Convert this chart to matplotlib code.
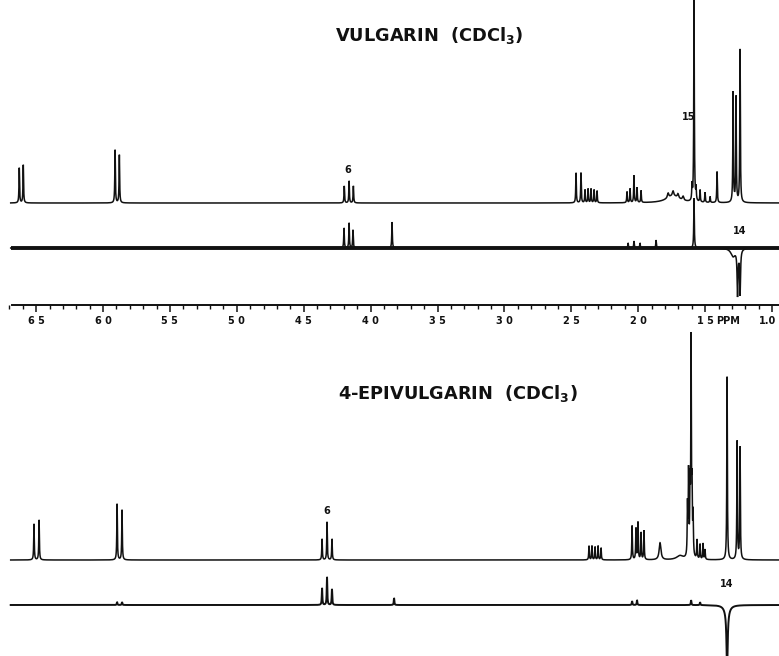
import matplotlib
matplotlib.use("Agg")
import matplotlib.pyplot as plt
import matplotlib.ticker as ticker
import matplotlib.transforms as mtransforms
import numpy as np

# peak lists: shift (ppm), height (px), half width (ppm)
vul_ppm = [6.626, 6.596, 5.910, 5.878, 4.197, 4.161, 4.129,
           2.465, 2.428, 2.398, 2.375, 2.353, 2.330, 2.308,
           2.084, 2.061, 2.032, 2.009, 1.979,
           1.740, 1.777, 1.740, 1.703, 1.665,
           1.583, 1.598, 1.568, 1.538, 1.501, 1.463, 1.411,
           1.291, 1.269, 1.239]
vul_h = [35, 38, 53, 48, 17, 22, 17,
         30, 30, 13, 14, 14, 13, 12,
         11, 14, 27, 15, 12,
         7, 5, 5, 4, 4,
         203, 15, 12, 12, 10, 6, 31,
         110, 105, 153]
vul_w = [0.0025] * 19 + [0.06, 0.006, 0.006, 0.006, 0.006] + [0.0025] * 10

vul_dept_ppm = [4.199, 4.161, 4.132, 3.840, 2.076, 2.032, 1.987, 1.867,
                1.583, 1.291, 1.258, 1.239]
vul_dept_h = [20, 25, 18, 26, 5, 7, 5, 8, 50, -8, -45, -45]
vul_dept_w = [0.0025] * 9 + [0.02, 0.004, 0.004]

epi_ppm = [6.516, 6.478, 5.895, 5.858, 4.363, 4.326, 4.289,
           2.368, 2.346, 2.323, 2.300, 2.278,
           2.046, 2.017, 2.002, 1.979, 1.957, 1.837, 1.688,
           1.605, 1.632, 1.624, 1.613, 1.598, 1.590,
           1.561, 1.538, 1.516, 1.501, 1.336, 1.261, 1.239]
epi_h = [36, 40, 56, 50, 21, 38, 21,
         14, 14, 13, 14, 12,
         34, 31, 37, 27, 29, 17, 4,
         212, 50, 82, 65, 60, 40,
         19, 15, 16, 10, 183, 118, 112]
epi_w = [0.0025] * 17 + [0.008, 0.03] + [0.0025] * 13

epi_dept_ppm = [5.895, 5.858, 4.363, 4.326, 4.289, 3.825,
                2.046, 2.009, 1.605, 1.538, 1.336, 1.336]
epi_dept_h = [3, 3, 17, 28, 16, 7, 4, 5, 5, 3, -58, -8]
epi_dept_w = [0.0025] * 10 + [0.005, 0.02]

tick_ppm = [6.5, 6.0, 5.5, 5.0, 4.5, 4.0, 3.5, 3.0, 2.5, 2.0, 1.5, 1.0]
tick_text = ['6 5', '6 0', '5 5', '5 0', '4 5', '4 0', '3 5', '3 0',
             '2 5', '2 0', '1 5', '1.0']


def spectrum(x, pos, hts, wid):
    y = np.zeros_like(x)
    for p, h, g in zip(pos, hts, wid):
        y += h * g**2 / ((x - p)**2 + g**2)
    return y


W, H = 779, 656
x_left, x_right = 6.770, 0.948
ppm = np.linspace(6.69, x_right, 40000)

fig = plt.figure(figsize=(W / 100, H / 100), dpi=100)
ax = fig.add_axes([0, 0, 1, 1])
ax.set_xlim(x_left, x_right)
ax.set_ylim(H, 0)          # y in pixel rows, downward
ax.axis('off')

ink = '#111111'
traces = [
    (vul_ppm, vul_h, vul_w, 203, 1.1),
    (vul_dept_ppm, vul_dept_h, vul_dept_w, 248, 1.1),
    (epi_ppm, epi_h, epi_w, 560, 1.1),
    (epi_dept_ppm, epi_dept_h, epi_dept_w, 605, 1.4),
]
for pos, hts, wid, base, lw in traces:
    ax.plot(ppm, base - spectrum(ppm, pos, hts, wid), color=ink, lw=lw,
            solid_joinstyle='miter')

# the noisy baseline of the upper difference trace, drawn as a heavy band
ax.plot([6.69, x_right], [248, 248], color=ink, lw=2.8, solid_capstyle='butt')

# peak labels
lab = dict(fontsize=7, fontweight='bold', color=ink, ha='center', va='center')
ax.text(4.169, 170, '6', **lab)
ax.text(1.625, 117, '15', **lab)
ax.text(1.239, 231, '14', **lab)
ax.text(4.326, 511, '6', **lab)
ax.text(1.336, 584, '14', **lab)

# titles
ttl = dict(fontsize=12.8, fontweight='bold', color=ink, va='center')
fig.text(335 / W, 1 - 35 / H, 'VULGARIN  (CDCl$_\\mathbf{3}$)', **ttl)
fig.text(338 / W, 1 - 393 / H, '4-EPIVULGARIN  (CDCl$_\\mathbf{3}$)', **ttl)

# ppm scale between the two spectra
sax = fig.add_axes([0, 1 - 305 / H, 1, 1e-4])
sax.set_xlim(x_left, x_right)
sax.set_yticks([])
for s in ['top', 'left', 'right']:
    sax.spines[s].set_visible(False)
sax.spines['bottom'].set_bounds(6.68, x_right)
sax.spines['bottom'].set_linewidth(1.4)
sax.spines['bottom'].set_color(ink)
sax.patch.set_alpha(0)
sax.xaxis.set_major_locator(ticker.FixedLocator(tick_ppm))
sax.xaxis.set_major_formatter(ticker.FixedFormatter(tick_text))
sax.xaxis.set_minor_locator(ticker.MultipleLocator(0.1))
sax.tick_params(which='major', direction='out', length=5, width=1.1,
                color=ink, labelsize=7, pad=3, labelcolor=ink)
sax.tick_params(which='minor', direction='out', length=3, width=1.0, color=ink)
labels = sax.get_xticklabels()
for t in labels:
    t.set_fontweight('bold')
# keep "1.0" inside the right edge
shift = mtransforms.ScaledTranslation(-4 / 100, 0, fig.dpi_scale_trans)
labels[-1].set_transform(labels[-1].get_transform() + shift)
sax.annotate('PPM', xy=(1.33, 0), xycoords=sax.get_xaxis_transform(),
             xytext=(0, -8), textcoords='offset points',
             fontsize=7, fontweight='bold', color=ink, ha='center', va='top')

fig.savefig('out.png', dpi=100, facecolor='white')
